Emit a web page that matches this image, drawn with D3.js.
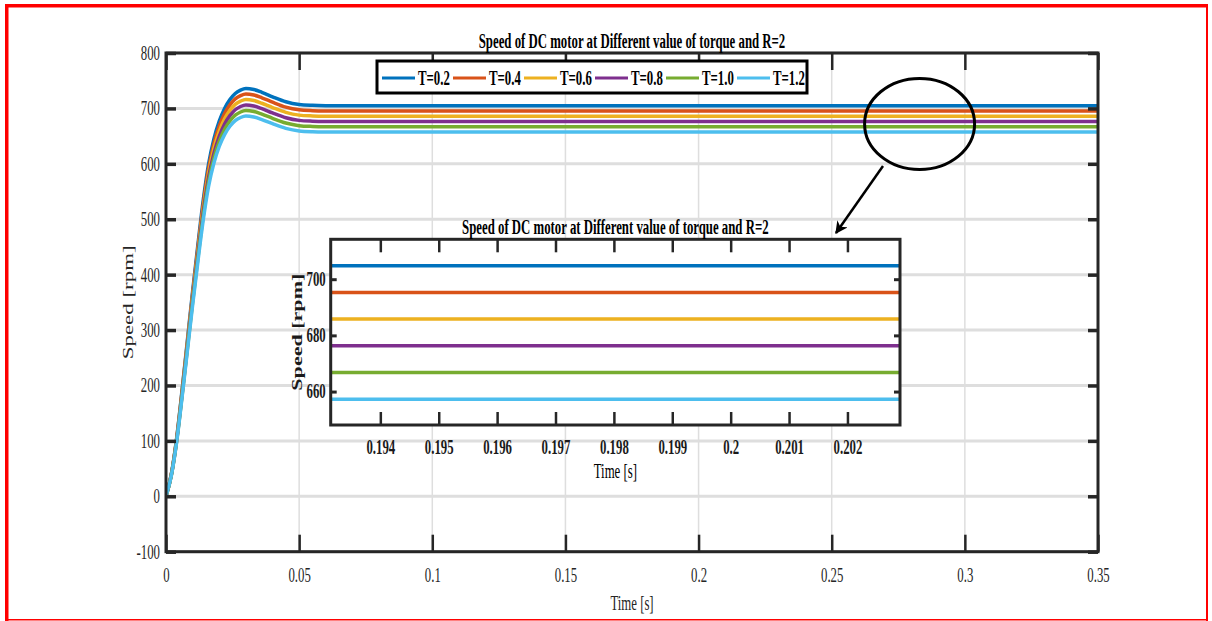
<!DOCTYPE html>
<html>
<head>
<meta charset="utf-8">
<script src="https://cdn.jsdelivr.net/npm/d3@7/dist/d3.min.js"></script>
<style>
  body { margin: 0; background: #fff; }
  svg { display: block; }
  text { font-family: "Liberation Serif", "Times New Roman", serif; }
</style>
</head>
<body>
<svg id="chart" width="1212" height="621"></svg>
<script>
// time samples [s]
const time = [0, 0.002, 0.004, 0.006, 0.008, 0.010, 0.012, 0.014, 0.016, 0.018,
  0.020, 0.022, 0.024, 0.026, 0.028, 0.030, 0.033, 0.036, 0.040, 0.045,
  0.050, 0.055, 0.060, 0.070, 0.100, 0.200, 0.350];

// speed [rpm] for each torque
const speedT02 = [0, 40, 105, 190, 280, 370, 455, 535, 600, 645, 677, 700, 716, 727, 733, 736, 734, 729, 721, 712, 707, 705.5, 705, 704.8, 704.8, 704.8, 704.8];
const speedT04 = [0, 39.5, 103.6, 187.4, 276.2, 365.0, 448.9, 527.8, 591.9, 636.3, 667.9, 690.6, 706.4, 717.2, 723.1, 726.1, 724.1, 719.2, 711.3, 702.4, 697.5, 696.0, 695.5, 695.3, 695.3, 695.3, 695.3];
const speedT06 = [0, 38.9, 102.2, 184.9, 272.5, 360.0, 442.7, 520.6, 583.8, 627.6, 658.7, 681.1, 696.7, 707.4, 713.2, 716.2, 714.2, 709.3, 701.6, 692.8, 687.9, 686.5, 686.0, 685.8, 685.8, 685.8, 685.8];
const speedT08 = [0, 38.4, 100.8, 182.3, 268.7, 355.0, 436.6, 513.4, 575.7, 618.9, 649.6, 671.7, 687.0, 697.6, 703.4, 706.2, 704.3, 699.5, 691.8, 683.2, 678.4, 677.0, 676.5, 676.3, 676.3, 676.3, 676.3];
const speedT10 = [0, 37.8, 99.3, 179.8, 264.9, 350.0, 430.5, 506.2, 567.6, 610.2, 640.5, 662.3, 677.4, 687.8, 693.5, 696.3, 694.4, 689.7, 682.1, 673.6, 668.9, 667.5, 667.0, 666.8, 666.8, 666.8, 666.8];
const speedT12 = [0, 37.3, 97.9, 177.2, 261.1, 345.1, 424.3, 498.9, 559.6, 601.5, 631.4, 652.8, 667.7, 678.0, 683.6, 686.4, 684.5, 679.9, 672.4, 664.0, 659.3, 657.9, 657.5, 657.3, 657.3, 657.3, 657.3];

const torqueLabels = ['T=0.2', 'T=0.4', 'T=0.6', 'T=0.8', 'T=1.0', 'T=1.2'];
const colors = ['#0072BD', '#D95319', '#EDB120', '#7E2F8E', '#77AC30', '#4DBEEE'];

const xTicks = [0, 0.05, 0.1, 0.15, 0.2, 0.25, 0.3, 0.35];
const xTickLabels = ['0', '0.05', '0.1', '0.15', '0.2', '0.25', '0.3', '0.35'];
const yTicks = [-100, 0, 100, 200, 300, 400, 500, 600, 700, 800];
const yTickLabels = ['-100', '0', '100', '200', '300', '400', '500', '600', '700', '800'];

const zoomXTicks = [0.194, 0.195, 0.196, 0.197, 0.198, 0.199, 0.2, 0.201, 0.202];
const zoomXTickLabels = ['0.194', '0.195', '0.196', '0.197', '0.198', '0.199', '0.2', '0.201', '0.202'];
const zoomYTicks = [660, 680, 700];
const zoomYTickLabels = ['660', '680', '700'];

const titleText = 'Speed of DC motor at Different value of torque and R=2';

let series = [speedT02, speedT04, speedT06, speedT08, speedT10, speedT12].map((vals, i) => ({
  name: torqueLabels[i],
  color: colors[i],
  points: time.map((t, j) => ({ t: t, v: vals[j] }))
}));

const SX = 0.64;   // the picture is squeezed sideways
const axisColor = '#262626';
const gridColor = '#dedede';

let svg = d3.select('#chart');

// squeeze a text sideways but keep its anchor point
function squash(sel, sx) {
  sel.each(function() {
    let t = d3.select(this);
    let x = +t.attr('x') || 0;
    t.attr('x', x / sx).attr('transform', `scale(${sx},1)`);
  });
}

function addText(parent, str, x, y, size, weight, anchor) {
  let g = parent.append('g').attr('transform', `translate(${x},${y})`);
  g.append('text')
    .text(str)
    .attr('font-size', size)
    .attr('font-weight', weight)
    .attr('text-anchor', anchor)
    .attr('fill', '#000')
    .attr('transform', `scale(${SX},1)`);
  return g;
}

// ---------- main axes ----------
let x = d3.scaleLinear().domain([0, 0.35]).range([166, 1098]);
let y = d3.scaleLinear().domain([-100, 800]).range([551.7, 53]);

svg.append('defs').append('clipPath').attr('id', 'mainClip')
  .append('rect')
  .attr('x', x(0)).attr('y', y(800))
  .attr('width', x(0.35) - x(0)).attr('height', y(-100) - y(800));

let grid = svg.append('g');
grid.selectAll('.gy').data(yTicks).enter().append('line')
  .attr('x1', x(0)).attr('x2', x(0.35))
  .attr('y1', d => y(d)).attr('y2', d => y(d))
  .attr('stroke', gridColor).attr('stroke-width', 3);
grid.selectAll('.gx').data(xTicks).enter().append('line')
  .attr('x1', d => x(d)).attr('x2', d => x(d))
  .attr('y1', y(800)).attr('y2', y(-100))
  .attr('stroke', gridColor).attr('stroke-width', 1.5);

let line = d3.line()
  .x(d => x(d.t))
  .y(d => y(d.v))
  .curve(d3.curveMonotoneX);

svg.append('g').attr('clip-path', 'url(#mainClip)')
  .selectAll('path')
  .data(series)
  .enter().append('path')
  .attr('d', d => line(d.points))
  .attr('fill', 'none')
  .attr('stroke', d => d.color)
  .attr('stroke-width', 3.5)
  .attr('stroke-linejoin', 'round');

function styleAxis(g, tickWidth) {
  g.select('.domain').remove();
  g.selectAll('.tick line').attr('stroke', axisColor).attr('stroke-width', tickWidth);
  g.selectAll('.tick text').attr('font-size', 20).attr('fill', axisColor)
    .attr('font-family', '"Liberation Serif", "Times New Roman", serif');
}

let gx = svg.append('g')
  .attr('transform', `translate(0,${y(-100)})`)
  .call(d3.axisBottom(x).tickValues(xTicks).tickSize(-17).tickPadding(16)
    .tickFormat((d, i) => xTickLabels[i]));
styleAxis(gx, 2.5);
squash(gx.selectAll('.tick text'), SX);

let gxTop = svg.append('g')
  .attr('transform', `translate(0,${y(800)})`)
  .call(d3.axisTop(x).tickValues(xTicks).tickSize(-17).tickFormat(''));
styleAxis(gxTop, 2.5);

let gy = svg.append('g')
  .attr('transform', `translate(${x(0)},0)`)
  .call(d3.axisLeft(y).tickValues(yTicks).tickSize(-10).tickPadding(6)
    .tickFormat((d, i) => yTickLabels[i]));
styleAxis(gy, 3.5);
squash(gy.selectAll('.tick text'), SX);

let gyRight = svg.append('g')
  .attr('transform', `translate(${x(0.35)},0)`)
  .call(d3.axisRight(y).tickValues(yTicks).tickSize(-10).tickFormat(''));
styleAxis(gyRight, 3.5);

svg.append('rect')
  .attr('x', x(0)).attr('y', y(800))
  .attr('width', x(0.35) - x(0)).attr('height', y(-100) - y(800))
  .attr('fill', 'none').attr('stroke', axisColor).attr('stroke-width', 3);

// main title and labels
addText(svg, titleText, (x(0) + x(0.35)) / 2, 48, 20, 'bold', 'middle');
addText(svg, 'Time [s]', (x(0) + x(0.35)) / 2, 610, 20, 'normal', 'middle')
  .select('text').attr('fill', axisColor);

svg.append('text')
  .text('Speed [rpm]')
  .attr('font-size', 20)
  .attr('fill', axisColor)
  .attr('text-anchor', 'middle')
  .attr('textLength', 114)
  .attr('lengthAdjust', 'spacingAndGlyphs')
  .attr('transform', `translate(133,${(y(800) + y(-100)) / 2}) rotate(-90) scale(1,0.75)`);

// ---------- legend ----------
let legend = svg.append('g');
legend.append('rect')
  .attr('x', 377).attr('y', 61).attr('width', 430).attr('height', 32)
  .attr('fill', '#fff').attr('stroke', '#000').attr('stroke-width', 3);

let item = legend.selectAll('.item')
  .data(series)
  .enter().append('g')
  .attr('transform', (d, i) => `translate(${382 + i * 71},0)`);
item.append('line')
  .attr('x1', 0).attr('x2', 33).attr('y1', 78).attr('y2', 78)
  .attr('stroke', d => d.color).attr('stroke-width', 3);
item.append('g').attr('transform', 'translate(36,85)')
  .append('text')
  .text(d => d.name)
  .attr('font-size', 20)
  .attr('font-weight', 'bold')
  .attr('transform', `scale(${SX},1)`);

// ---------- zoom inset ----------
let xi = d3.scaleLinear().domain([0.19315, 0.2029]).range([330.7, 900]);
let yi = d3.scaleLinear().domain([648.1, 714.2]).range([425, 239.3]);

svg.select('defs').append('clipPath').attr('id', 'zoomClip')
  .append('rect')
  .attr('x', xi.range()[0]).attr('y', yi.range()[1])
  .attr('width', xi.range()[1] - xi.range()[0]).attr('height', yi.range()[0] - yi.range()[1]);

svg.append('rect')
  .attr('x', xi.range()[0]).attr('y', yi.range()[1])
  .attr('width', xi.range()[1] - xi.range()[0]).attr('height', yi.range()[0] - yi.range()[1])
  .attr('fill', '#fff');

let zline = d3.line()
  .x(d => xi(d.t))
  .y(d => yi(d.v))
  .curve(d3.curveMonotoneX);

svg.append('g').attr('clip-path', 'url(#zoomClip)')
  .selectAll('path')
  .data(series)
  .enter().append('path')
  .attr('d', d => zline(d.points))
  .attr('fill', 'none')
  .attr('stroke', d => d.color)
  .attr('stroke-width', 3.5);

let zx = svg.append('g')
  .attr('transform', `translate(0,${yi.range()[0]})`)
  .call(d3.axisBottom(xi).tickValues(zoomXTicks).tickSize(-13).tickPadding(15)
    .tickFormat((d, i) => zoomXTickLabels[i]));
styleAxis(zx, 2.5);
zx.selectAll('.tick text').attr('font-weight', 'bold').attr('fill', '#1a1a1a');
squash(zx.selectAll('.tick text'), SX);

let zxTop = svg.append('g')
  .attr('transform', `translate(0,${yi.range()[1]})`)
  .call(d3.axisTop(xi).tickValues(zoomXTicks).tickSize(-13).tickFormat(''));
styleAxis(zxTop, 2.5);

let zy = svg.append('g')
  .attr('transform', `translate(${xi.range()[0]},0)`)
  .call(d3.axisLeft(yi).tickValues(zoomYTicks).tickSize(-6).tickPadding(5)
    .tickFormat((d, i) => zoomYTickLabels[i]));
styleAxis(zy, 3);
zy.selectAll('.tick text').attr('font-weight', 'bold').attr('fill', '#1a1a1a');
squash(zy.selectAll('.tick text'), SX);

let zyRight = svg.append('g')
  .attr('transform', `translate(${xi.range()[1]},0)`)
  .call(d3.axisRight(yi).tickValues(zoomYTicks).tickSize(-6).tickFormat(''));
styleAxis(zyRight, 3);

svg.append('rect')
  .attr('x', xi.range()[0]).attr('y', yi.range()[1])
  .attr('width', xi.range()[1] - xi.range()[0]).attr('height', yi.range()[0] - yi.range()[1])
  .attr('fill', 'none').attr('stroke', axisColor).attr('stroke-width', 3);

addText(svg, titleText, (xi.range()[0] + xi.range()[1]) / 2, 234, 20, 'bold', 'middle');
addText(svg, 'Time [s]', (xi.range()[0] + xi.range()[1]) / 2, 478, 20, 'normal', 'middle');

svg.append('text')
  .text('Speed [rpm]')
  .attr('font-size', 20)
  .attr('font-weight', 'bold')
  .attr('fill', '#1a1a1a')
  .attr('text-anchor', 'middle')
  .attr('textLength', 117)
  .attr('lengthAdjust', 'spacingAndGlyphs')
  .attr('transform', `translate(302,${(yi.range()[0] + yi.range()[1]) / 2}) rotate(-90) scale(1,0.75)`);

// ---------- callout ellipse and arrow ----------
svg.select('defs').append('marker')
  .attr('id', 'arrowHead')
  .attr('viewBox', '0 0 10 10')
  .attr('refX', 9).attr('refY', 5)
  .attr('markerWidth', 5).attr('markerHeight', 5)
  .attr('markerUnits', 'strokeWidth')
  .attr('orient', 'auto')
  .append('path')
  .attr('d', 'M0,0 L10,5 L0,10 L3,5 Z')
  .attr('fill', '#000');

svg.append('ellipse')
  .attr('cx', x(0.283)).attr('cy', y(672))
  .attr('rx', 55).attr('ry', 45.5)
  .attr('fill', 'none').attr('stroke', '#000').attr('stroke-width', 3);

svg.append('line')
  .attr('x1', 883).attr('y1', 166)
  .attr('x2', 836).attr('y2', 233)
  .attr('stroke', '#000').attr('stroke-width', 2.5)
  .attr('marker-end', 'url(#arrowHead)');

// ---------- red frame ----------
let frame = svg.append('g').attr('fill', '#f00');
frame.append('rect').attr('x', 5).attr('y', 4).attr('width', 1203).attr('height', 3.5);
frame.append('rect').attr('x', 5).attr('y', 4).attr('width', 3.5).attr('height', 617);
frame.append('rect').attr('x', 1206).attr('y', 4).attr('width', 2).attr('height', 617);
frame.append('rect').attr('x', 5).attr('y', 619).attr('width', 1203).attr('height', 1.5);
</script>
</body>
</html>
